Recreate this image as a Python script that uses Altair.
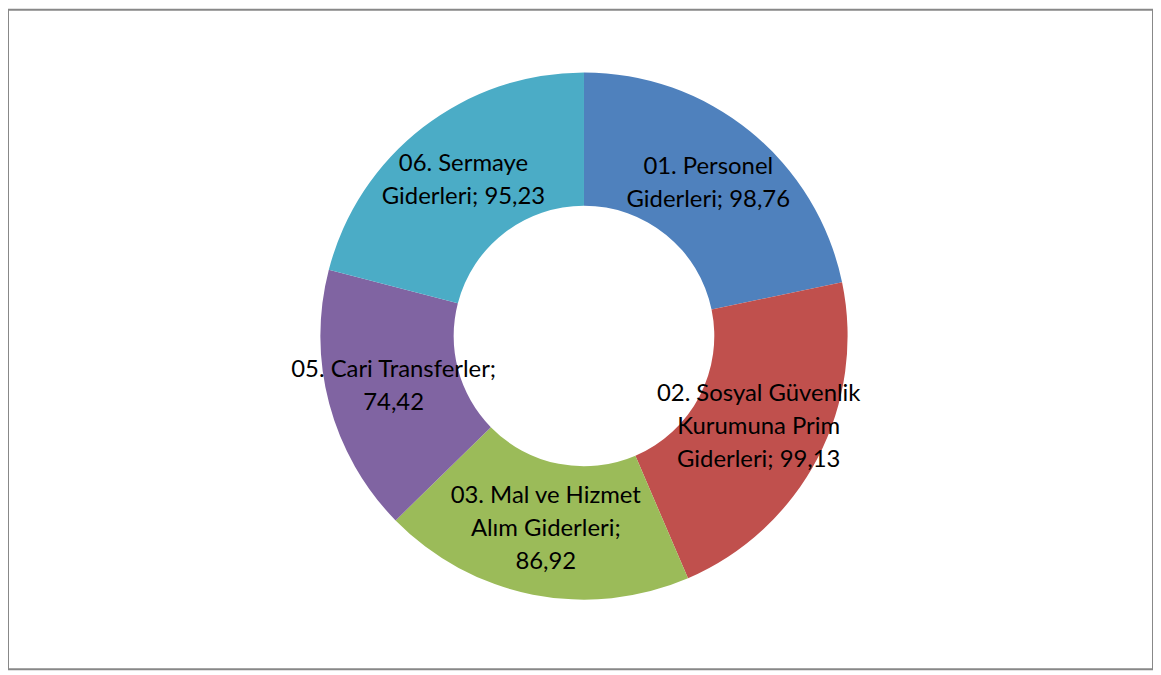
import altair as alt
import pandas as pd

categories = ["01. Personel Giderleri", "02. Sosyal Güvenlik Kurumuna Prim Giderleri",
              "03. Mal ve Hizmet Alım Giderleri", "05. Cari Transferler", "06. Sermaye Giderleri"]
values = [98.76, 99.13, 86.92, 74.42, 95.23]
label_lines = [
    ["01. Personel", "Giderleri; 98,76"],
    ["02. Sosyal Güvenlik", "Kurumuna Prim", "Giderleri; 99,13"],
    ["03. Mal ve Hizmet", "Alım Giderleri;", "86,92"],
    ["05. Cari Transferler;", "74,42"],
    ["06. Sermaye", "Giderleri; 95,23"],
]
colors = ["#4F81BD", "#C0504D", "#9BBB59", "#8064A2", "#4BACC6"]

LH = 33
df = pd.DataFrame({
    "cat": categories,
    "value": values,
    "label": ["\n".join(l) for l in label_lines],
    "nlines": [len(l) for l in label_lines],
    "idx": list(range(len(categories))),
})

W, H = 1151, 663
CX, CY = 579, 328

arcs = alt.Chart(df).mark_arc(innerRadius=131, outerRadius=265).encode(
    theta=alt.Theta("value:Q", stack=True),
    order=alt.Order("idx:Q"),
    color=alt.Color("cat:N", scale=alt.Scale(domain=categories, range=colors), legend=None),
    x=alt.value(CX),
    y=alt.value(CY),
)

text_base = alt.Chart(df).transform_window(
    cum="sum(value)", sort=[alt.SortField("idx")], frame=[None, 0]
).transform_joinaggregate(
    total="sum(value)"
).transform_calculate(
    mid="(datum.cum - datum.value / 2) / datum.total * 2 * PI"
)

def text_layer(n):
    return text_base.transform_filter(alt.datum.nlines == n).mark_text(
        radius=198, font="Lato", fontSize=24, color="#000000",
        align="center", baseline="middle", lineBreak="\n", lineHeight=LH,
        dy=-(n - 1) * LH / 2,
    ).encode(
        theta=alt.Theta("mid:Q", scale=None, stack=None),
        text="label:N",
        x=alt.value(CX),
        y=alt.value(CY),
    )

chart = alt.layer(arcs, text_layer(2), text_layer(3)).properties(
    width=W, height=H, padding=0,
    autosize=alt.AutoSizeParams(type="fit", contains="padding"),
).configure(
    background="white",
    view=alt.ViewConfig(stroke="#888888", strokeWidth=2),
)

chart.save("out.html", embed_options={"renderer": "svg", "actions": False})
